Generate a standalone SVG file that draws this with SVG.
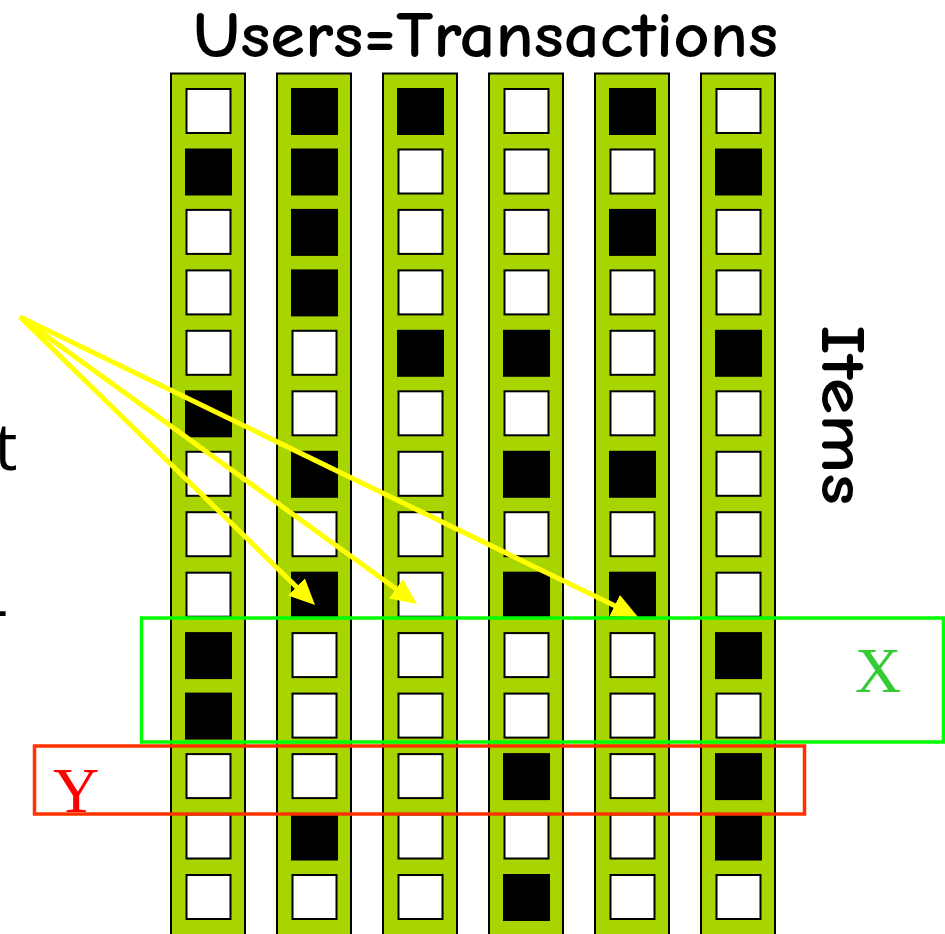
<svg xmlns="http://www.w3.org/2000/svg" width="945" height="934" viewBox="0 0 945 934">
  <style>
    .col { fill: #a8d400; stroke: #000; stroke-width: 2; }
    .cw { fill: #fff; stroke: #000; stroke-width: 2; }
    .cb { fill: #000; }
    .arrow { fill: none; stroke: #ffff00; stroke-width: 5; marker-end: url(#head); }
    .hand { font-family: "Comic Sans MS", "Comic Neue", "Liberation Sans", sans-serif; font-weight: bold; fill: #000; }
    .side { font-family: "Open Sans", "DejaVu Sans", sans-serif; font-size: 66px; fill: #000; }
    .lbl { font-family: "Liberation Serif", "Times New Roman", serif; font-size: 64px; }
  </style>
  <defs>
    <rect id="wc" width="44" height="44" class="cw"/>
    <rect id="bc" width="47" height="47" class="cb"/>
    <marker id="head" markerUnits="userSpaceOnUse" markerWidth="27" markerHeight="26" refX="6" refY="12" orient="auto">
      <path d="M0,0 L26,12 L0,24 z" fill="#ffff00"/>
    </marker>
  </defs>
  <rect width="945" height="934" fill="#fff"/>

  <!-- side text running off the left edge -->
  <text class="side" x="-6" y="470">t</text>
  <text class="side" x="-13" y="631">-</text>

  <!-- title -->
  <text class="hand" x="193" y="57" font-size="64" textLength="585" lengthAdjust="spacingAndGlyphs">Users=Transactions</text>

  <!-- vertical axis label -->
  <text class="hand" font-size="63" transform="translate(822,325) rotate(90)" textLength="180" lengthAdjust="spacingAndGlyphs">Items</text>

  <!-- transaction columns: white cell offset +16.5/+1, black cell offset +15/+0 -->
  <g id="t1">
    <rect class="col" x="171" y="73.5" width="74" height="880"/>
    <use href="#wc" x="186.5" y="89"/>
    <use href="#bc" x="185" y="148.5"/>
    <use href="#wc" x="186.5" y="209.9"/>
    <use href="#wc" x="186.5" y="270.4"/>
    <use href="#wc" x="186.5" y="330.8"/>
    <use href="#bc" x="185" y="390.3"/>
    <use href="#wc" x="186.5" y="451.8"/>
    <use href="#wc" x="186.5" y="512.2"/>
    <use href="#wc" x="186.5" y="572.7"/>
    <use href="#bc" x="185" y="632.1"/>
    <use href="#bc" x="185" y="692.6"/>
    <use href="#wc" x="186.5" y="754.1"/>
    <use href="#wc" x="186.5" y="814.5"/>
    <use href="#wc" x="186.5" y="875"/>
  </g>
  <g id="t2">
    <rect class="col" x="277" y="73.5" width="74" height="880"/>
    <use href="#bc" x="291" y="88"/>
    <use href="#bc" x="291" y="148.5"/>
    <use href="#bc" x="291" y="208.9"/>
    <use href="#bc" x="291" y="269.4"/>
    <use href="#wc" x="292.5" y="330.8"/>
    <use href="#wc" x="292.5" y="391.3"/>
    <use href="#bc" x="291" y="450.8"/>
    <use href="#wc" x="292.5" y="512.2"/>
    <use href="#bc" x="291" y="571.7"/>
    <use href="#wc" x="292.5" y="633.1"/>
    <use href="#wc" x="292.5" y="693.6"/>
    <use href="#wc" x="292.5" y="754.1"/>
    <use href="#bc" x="291" y="813.5"/>
    <use href="#wc" x="292.5" y="875"/>
  </g>
  <g id="t3">
    <rect class="col" x="383" y="73.5" width="74" height="880"/>
    <use href="#bc" x="397" y="88"/>
    <use href="#wc" x="398.5" y="149.5"/>
    <use href="#wc" x="398.5" y="209.9"/>
    <use href="#wc" x="398.5" y="270.4"/>
    <use href="#bc" x="397" y="329.8"/>
    <use href="#wc" x="398.5" y="391.3"/>
    <use href="#wc" x="398.5" y="451.8"/>
    <use href="#wc" x="398.5" y="512.2"/>
    <use href="#wc" x="398.5" y="572.7"/>
    <use href="#wc" x="398.5" y="633.1"/>
    <use href="#wc" x="398.5" y="693.6"/>
    <use href="#wc" x="398.5" y="754.1"/>
    <use href="#wc" x="398.5" y="814.5"/>
    <use href="#wc" x="398.5" y="875"/>
  </g>
  <g id="t4">
    <rect class="col" x="489" y="73.5" width="74" height="880"/>
    <use href="#wc" x="504.5" y="89"/>
    <use href="#wc" x="504.5" y="149.5"/>
    <use href="#wc" x="504.5" y="209.9"/>
    <use href="#wc" x="504.5" y="270.4"/>
    <use href="#bc" x="503" y="329.8"/>
    <use href="#wc" x="504.5" y="391.3"/>
    <use href="#bc" x="503" y="450.8"/>
    <use href="#wc" x="504.5" y="512.2"/>
    <use href="#bc" x="503" y="571.7"/>
    <use href="#wc" x="504.5" y="633.1"/>
    <use href="#wc" x="504.5" y="693.6"/>
    <use href="#bc" x="503" y="753.1"/>
    <use href="#wc" x="504.5" y="814.5"/>
    <use href="#bc" x="503" y="874"/>
  </g>
  <g id="t5">
    <rect class="col" x="595" y="73.5" width="74" height="880"/>
    <use href="#bc" x="609" y="88"/>
    <use href="#wc" x="610.5" y="149.5"/>
    <use href="#bc" x="609" y="208.9"/>
    <use href="#wc" x="610.5" y="270.4"/>
    <use href="#wc" x="610.5" y="330.8"/>
    <use href="#wc" x="610.5" y="391.3"/>
    <use href="#bc" x="609" y="450.8"/>
    <use href="#wc" x="610.5" y="512.2"/>
    <use href="#bc" x="609" y="571.7"/>
    <use href="#wc" x="610.5" y="633.1"/>
    <use href="#wc" x="610.5" y="693.6"/>
    <use href="#wc" x="610.5" y="754.1"/>
    <use href="#wc" x="610.5" y="814.5"/>
    <use href="#wc" x="610.5" y="875"/>
  </g>
  <g id="t6">
    <rect class="col" x="701" y="73.5" width="74" height="880"/>
    <use href="#wc" x="716.5" y="89"/>
    <use href="#bc" x="715" y="148.5"/>
    <use href="#wc" x="716.5" y="209.9"/>
    <use href="#wc" x="716.5" y="270.4"/>
    <use href="#bc" x="715" y="329.8"/>
    <use href="#wc" x="716.5" y="391.3"/>
    <use href="#wc" x="716.5" y="451.8"/>
    <use href="#wc" x="716.5" y="512.2"/>
    <use href="#wc" x="716.5" y="572.7"/>
    <use href="#bc" x="715" y="632.1"/>
    <use href="#wc" x="716.5" y="693.6"/>
    <use href="#bc" x="715" y="753.1"/>
    <use href="#bc" x="715" y="813.5"/>
    <use href="#wc" x="716.5" y="875"/>
  </g>

  <!-- pointers from the left into the row above X -->
  <g id="connectors">
    <line class="arrow" x1="20" y1="317" x2="300.7" y2="591"/>
    <line class="arrow" x1="20" y1="317" x2="400.8" y2="592.3"/>
    <line class="arrow" x1="20" y1="317" x2="620" y2="608.3"/>
  </g>

  <!-- itemset X -->
  <g id="setX">
    <rect x="141.5" y="618" width="802" height="124" fill="none" stroke="#00ff00" stroke-width="3.5"/>
    <text class="lbl" x="855" y="692" fill="#33cc33">X</text>
  </g>

  <!-- itemset Y -->
  <g id="setY">
    <rect x="34.5" y="746" width="770" height="68" fill="none" stroke="#ff3300" stroke-width="3.5"/>
    <text class="lbl" x="53" y="812" fill="#ff0000">Y</text>
  </g>
</svg>
